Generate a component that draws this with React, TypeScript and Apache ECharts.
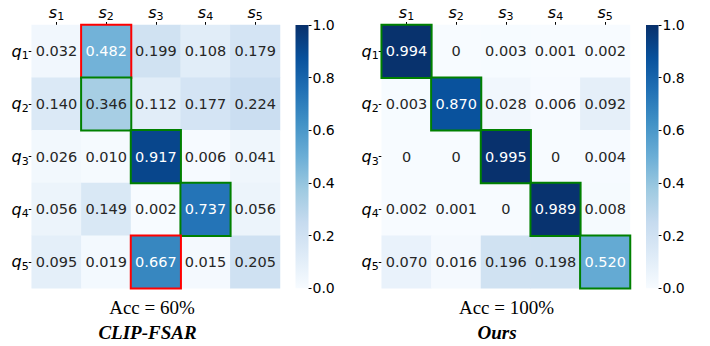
import React, { useEffect, useRef } from "react";
import * as echarts from "echarts";

const sLabels = ["s1", "s2", "s3", "s4", "s5"];
const qLabels = ["q1", "q2", "q3", "q4", "q5"];

const clipValues = [
  [0.032, 0.482, 0.199, 0.108, 0.179],
  [0.140, 0.346, 0.112, 0.177, 0.224],
  [0.026, 0.010, 0.917, 0.006, 0.041],
  [0.056, 0.149, 0.002, 0.737, 0.056],
  [0.095, 0.019, 0.667, 0.015, 0.205],
];
const oursValues = [
  [0.994, 0, 0.003, 0.001, 0.002],
  [0.003, 0.870, 0.028, 0.006, 0.092],
  [0, 0, 0.995, 0, 0.004],
  [0.002, 0.001, 0, 0.989, 0.008],
  [0.070, 0.016, 0.196, 0.198, 0.520],
];
// [row, col, color]
const clipBoxes = [
  [0, 1, "red"],
  [1, 1, "green"],
  [2, 2, "green"],
  [3, 3, "green"],
  [4, 2, "red"],
];
const oursBoxes = [
  [0, 0, "green"],
  [1, 1, "green"],
  [2, 2, "green"],
  [3, 3, "green"],
  [4, 4, "green"],
];
const colorbarTicks = [0, 0.2, 0.4, 0.6, 0.8, 1.0];
const blues = ["#f7fbff", "#deebf7", "#c6dbef", "#9ecae1", "#6baed6", "#4292c6", "#2171b5", "#08519c", "#08306b"];

const FONT = "DejaVu Sans";

function buildData(values: number[][], boxes: any[]) {
  const plain: any[] = [];
  const boxed: any[] = [];
  values.forEach((row, r) => {
    row.forEach((v, c) => {
      const box = boxes.find((b) => b[0] === r && b[1] === c);
      const item: any = {
        value: [c, r, v],
        label: { color: v > 0.4 ? "#ffffff" : "#262626" },
      };
      if (box) {
        item.itemStyle = { borderColor: box[2], borderWidth: 2 };
        boxed.push(item);
      } else plain.push(item);
    });
  });
  return plain.concat(boxed);
}

const rich = {
  i: { fontFamily: FONT, fontStyle: "italic", fontSize: 16, color: "#000", lineHeight: 20, verticalAlign: "middle" },
  sub: { fontFamily: FONT, fontSize: 11, color: "#000", lineHeight: 20, verticalAlign: "bottom", padding: [10, 0, 0, 0] },
};

export default function App() {
  const ref = useRef<HTMLDivElement>(null);
  useEffect(() => {
    if (!ref.current) return;
    const chart = echarts.init(ref.current, null, { renderer: "svg" });
    const top = 25;
    const h = 263.3;
    const grids = [
      { left: 31.7, top, width: 248.3, height: h },
      { left: 381.7, top, width: 248.3, height: h },
      { left: 295.5, top, width: 13, height: h },
      { left: 646, top, width: 12.5, height: h },
    ];
    const fmtAxis = (v: string) => `{i|${v[0]}}{sub|${v.slice(1)}}`;
    const xAxes: any[] = [];
    const yAxes: any[] = [];
    [0, 1].forEach((g) => {
      xAxes.push({
        type: "category",
        gridIndex: g,
        data: sLabels,
        position: "top",
        axisLine: { show: false },
        axisTick: { show: true, alignWithLabel: true, interval: 0, length: 3, lineStyle: { color: "#000" } },
        axisLabel: { formatter: fmtAxis, rich, margin: 3, interval: 0 },
        splitLine: { show: false },
      });
      yAxes.push({
        type: "category",
        gridIndex: g,
        data: qLabels,
        inverse: true,
        axisLine: { show: false },
        axisTick: { show: true, alignWithLabel: true, interval: 0, length: 3, lineStyle: { color: "#000" } },
        axisLabel: { formatter: fmtAxis, rich, margin: 3, interval: 0 },
        splitLine: { show: false },
      });
    });
    [2, 3].forEach((g) => {
      xAxes.push({ type: "category", gridIndex: g, data: ["c"], show: false });
      yAxes.push({
        type: "value",
        gridIndex: g,
        min: 0,
        max: 1,
        interval: 0.2,
        position: "right",
        axisLine: { show: false },
        axisTick: { show: true, length: 3, lineStyle: { color: "#000" } },
        axisLabel: {
          fontFamily: FONT,
          fontSize: 14,
          color: "#000",
          margin: 4,
          formatter: (v: number) => (colorbarTicks.includes(Math.round(v * 10) / 10) ? v.toFixed(1) : ""),
        },
        splitLine: { show: false },
      });
    });
    const gradient = new echarts.graphic.LinearGradient(
      0, 1, 0, 0,
      blues.map((c, i) => ({ offset: i / (blues.length - 1), color: c }))
    );
    const heatLabel = {
      show: true,
      fontFamily: FONT,
      fontSize: 14.5,
      formatter: (p: any) => {
        const v = p.value[2];
        return v === 0 ? "0" : v.toFixed(3);
      },
    };
    const option: any = {
      animation: false,
      grid: grids,
      xAxis: xAxes,
      yAxis: yAxes,
      visualMap: {
        show: false,
        min: 0,
        max: 1,
        dimension: 2,
        seriesIndex: [0, 1],
        inRange: { color: blues },
      },
      series: [
        {
          type: "heatmap",
          xAxisIndex: 0,
          yAxisIndex: 0,
          data: buildData(clipValues, clipBoxes),
          label: heatLabel,
          emphasis: { disabled: true },
        },
        {
          type: "heatmap",
          xAxisIndex: 1,
          yAxisIndex: 1,
          data: buildData(oursValues, oursBoxes),
          label: heatLabel,
          emphasis: { disabled: true },
        },
        {
          type: "bar",
          xAxisIndex: 2,
          yAxisIndex: 2,
          data: [1],
          barWidth: "100%",
          itemStyle: { color: gradient },
          silent: true,
        },
        {
          type: "bar",
          xAxisIndex: 3,
          yAxisIndex: 3,
          data: [1],
          barWidth: "100%",
          itemStyle: { color: gradient },
          silent: true,
        },
      ],
      graphic: [
        { type: "text", x: 152, y: 307, style: { text: "Acc = 60%", font: "19px 'Liberation Serif'", fill: "#000", textAlign: "center", textVerticalAlign: "middle" } },
        { type: "text", x: 147.5, y: 332, style: { text: "CLIP-FSAR", font: "italic bold 19px 'Liberation Serif'", fill: "#000", textAlign: "center", textVerticalAlign: "middle" } },
        { type: "text", x: 506.5, y: 307, style: { text: "Acc = 100%", font: "19px 'Liberation Serif'", fill: "#000", textAlign: "center", textVerticalAlign: "middle" } },
        { type: "text", x: 497, y: 332, style: { text: "Ours", font: "italic bold 19px 'Liberation Serif'", fill: "#000", textAlign: "center", textVerticalAlign: "middle" } },
      ],
    };
    chart.setOption(option);
    return () => chart.dispose();
  }, []);
  return (
    <div
      ref={ref}
      style={{ position: "fixed", left: 0, top: 0, width: 710, height: 346, background: "#fff" }}
    />
  );
}
